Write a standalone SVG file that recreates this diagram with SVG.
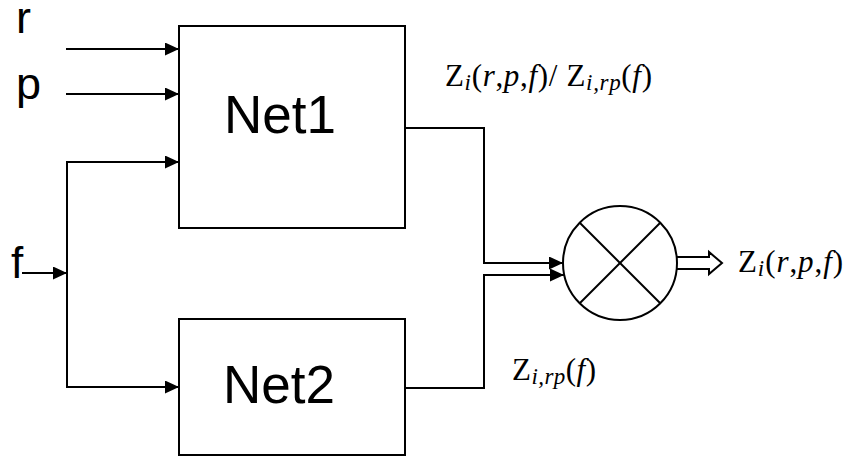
<svg xmlns="http://www.w3.org/2000/svg" width="846" height="456" viewBox="0 0 846 456">
<style>
.box{fill:#fff;stroke:#000;stroke-width:2}
.wire{fill:none;stroke:#000;stroke-width:2}
.big{font-family:"Liberation Sans",Arial,sans-serif;fill:#000}
.math{font-family:"Liberation Serif","Times New Roman",serif;font-size:31px;fill:#000}
.it{font-style:italic}
.sub{font-style:italic;font-size:23px}
</style>
<defs>
<marker id="ah" markerUnits="userSpaceOnUse" markerWidth="14" markerHeight="13" refX="14" refY="6.5" orient="auto">
<path d="M0,0 L14,6.5 L0,13 z" fill="#000"/>
</marker>
</defs>
<rect width="846" height="456" fill="#fff"/>
<g id="connectors">
<line class="wire" x1="66" y1="49" x2="179" y2="49" marker-end="url(#ah)"/>
<line class="wire" x1="66" y1="94" x2="179" y2="94" marker-end="url(#ah)"/>
<line class="wire" x1="22" y1="273" x2="67" y2="273" marker-end="url(#ah)"/>
<path class="wire" d="M67,273 V162 H179" marker-end="url(#ah)"/>
<path class="wire" d="M67,273 V387 H179" marker-end="url(#ah)"/>
<path class="wire" d="M405,128 H484 V263 H563" marker-end="url(#ah)"/>
<path class="wire" d="M405,388 H484 V275 H564" marker-end="url(#ah)"/>
<path class="wire" d="M676,257 H709 V252 L722,263 L709,274 V269 H676" fill="#fff"/>
</g>
<g id="net1">
<rect class="box" x="179" y="26" width="226" height="202"/>
<text class="big" x="224" y="133" font-size="53">Net1</text>
</g>
<g id="net2">
<rect class="box" x="179" y="319" width="226" height="136"/>
<text class="big" x="223" y="403" font-size="53">Net2</text>
</g>
<g id="multiplier">
<circle cx="620" cy="263" r="57" fill="#fff" stroke="#000" stroke-width="2"/>
<line class="wire" x1="580" y1="223" x2="660" y2="303"/>
<line class="wire" x1="660" y1="223" x2="580" y2="303"/>
</g>
<g id="inputs">
<text class="big" x="16" y="33" font-size="45">r</text>
<text class="big" x="16" y="99" font-size="45">p</text>
<text class="big" x="11" y="278" font-size="44">f</text>
</g>
<g id="labels">
<text class="math" x="445" y="86" textLength="207" lengthAdjust="spacing">Z<tspan class="sub" dy="4">i</tspan><tspan dy="-4">(</tspan><tspan class="it">r</tspan>,<tspan class="it">p</tspan>,<tspan class="it">f</tspan>)/ Z<tspan class="sub" dy="4">i,rp</tspan><tspan dy="-4">(</tspan><tspan class="it">f</tspan>)</text>
<text class="math" x="512" y="380" textLength="84" lengthAdjust="spacing">Z<tspan class="sub" dy="4">i,rp</tspan><tspan dy="-4">(</tspan><tspan class="it">f</tspan>)</text>
<text class="math" x="738" y="272" textLength="105" lengthAdjust="spacing">Z<tspan class="sub" dy="4">i</tspan><tspan dy="-4">(</tspan><tspan class="it">r</tspan>,<tspan class="it">p</tspan>,<tspan class="it">f</tspan>)</text>
</g>
</svg>
